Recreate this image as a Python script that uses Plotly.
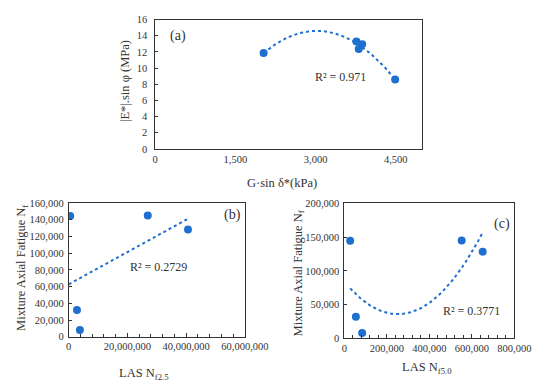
import numpy as np
import plotly.graph_objects as go

# Panel (a)
a_x = [2028, 3765, 3872, 3808, 4489]
a_y = [11.86, 13.27, 12.94, 12.34, 8.60]
# Panel (b) and (c) share the fatigue values
nf = [144500, 145000, 128500, 32000, 8000]
b_x = [500000, 26900000, 40600000, 2800000, 3800000]
c_x = [26900, 552000, 651000, 53700, 83300]

BLUE = "#1f6fd0"
FONT = "Liberation Serif"

fig = go.Figure()

def add_panel(xs, ys, deg, xa, ya):
    fit = np.polyfit(xs, ys, deg)
    if deg == 1:
        lx = np.linspace(0, max(xs), 60)
    else:
        lx = np.linspace(min(xs), max(xs), 80)
    ly = np.polyval(fit, lx)
    fig.add_trace(go.Scatter(x=lx, y=ly, mode="lines", xaxis=xa, yaxis=ya,
                             line=dict(color=BLUE, width=2, dash="dot"),
                             showlegend=False, hoverinfo="skip"))
    fig.add_trace(go.Scatter(x=xs, y=ys, mode="markers", xaxis=xa, yaxis=ya,
                             marker=dict(color=BLUE, size=8),
                             showlegend=False))

add_panel(a_x, a_y, 2, "x", "y")
add_panel(b_x, nf, 1, "x2", "y2")
add_panel(c_x, nf, 2, "x3", "y3")

tickf = dict(family=FONT, size=10.5, color="#333")
common = dict(showline=True, linecolor="#333", linewidth=1, mirror=True,
              showgrid=False, zeroline=False, tickfont=tickf, tickcolor="#333")

fig.update_layout(
    width=550, height=383, margin=dict(l=0, r=0, t=0, b=0),
    paper_bgcolor="white", plot_bgcolor="white",
    xaxis=dict(domain=[0.2758, 0.7867], range=[0, 5000], tickvals=[0, 1500, 3000, 4500],
               tickformat=",d", ticks="", **common),
    yaxis=dict(domain=[0.6345, 0.9825], range=[0, 16], dtick=2, ticks="inside", ticklen=3,
               ticklabelstandoff=5, anchor="x", **common),
    xaxis2=dict(domain=[0.1104, 0.4473], range=[0, 60000000], dtick=20000000, tickformat=",d",
                ticks="inside", ticklen=4, anchor="y2",
                minor=dict(dtick=4000000, ticks="inside", ticklen=3, tickcolor="#333"), **common),
    yaxis2=dict(domain=[0.1298, 0.4890], range=[0, 160000], dtick=20000, tickformat=",d",
                ticks="inside", ticklen=3, ticklabelstandoff=2, anchor="x2", **common),
    xaxis3=dict(domain=[0.6376, 0.9624], range=[0, 800000], dtick=200000, tickformat=",d",
                ticks="inside", ticklen=4, anchor="y3",
                minor=dict(dtick=40000, ticks="inside", ticklen=3, tickcolor="#333"), **common),
    yaxis3=dict(domain=[0.1253, 0.4883], range=[0, 200000], dtick=50000, tickformat=",d",
                ticks="inside", ticklen=3, ticklabelstandoff=2, anchor="x3", **common),
)

tf = dict(family=FONT, size=12.5, color="#333")
ann = [
    dict(text="|E*|.sin φ (MPa)", x=120, y=70, textangle=-90, font=tf),
    dict(text="G·sin δ*(kPa)", x=285, y=175, font=tf),
    dict(text="(a)", x=176, y=24, font=dict(family=FONT, size=14, color="#333")),
    dict(text="R² = 0.971", x=347, y=66, font=dict(family=FONT, size=12, color="#333")),
    dict(text="Mixture Axial Fatigue N<sub>f</sub>", x=12, y=262, textangle=-90, font=tf),
    dict(text="LAS N<sub>f2.5</sub>", x=140, y=372, font=tf),
    dict(text="(b)", x=233, y=208, font=dict(family=FONT, size=14, color="#333")),
    dict(text="R² = 0.2729", x=155, y=261, font=dict(family=FONT, size=12, color="#333")),
    dict(text="Mixture Axial Fatigue N<sub>f</sub>", x=303, y=268, textangle=-90, font=tf),
    dict(text="LAS N<sub>f5.0</sub>", x=438, y=366, font=tf),
    dict(text="(c)", x=516, y=217, font=dict(family=FONT, size=14, color="#333")),
    dict(text="R² = 0.3771", x=484, y=307, font=dict(family=FONT, size=12, color="#333")),
]
for a in ann:
    fig.add_annotation(text=a["text"], x=a["x"] / 550, y=1 - a["y"] / 383,
                       xref="paper", yref="paper", showarrow=False,
                       textangle=a.get("textangle", 0), font=a["font"],
                       xanchor="center", yanchor="middle")

fig.write_html("out.html")
